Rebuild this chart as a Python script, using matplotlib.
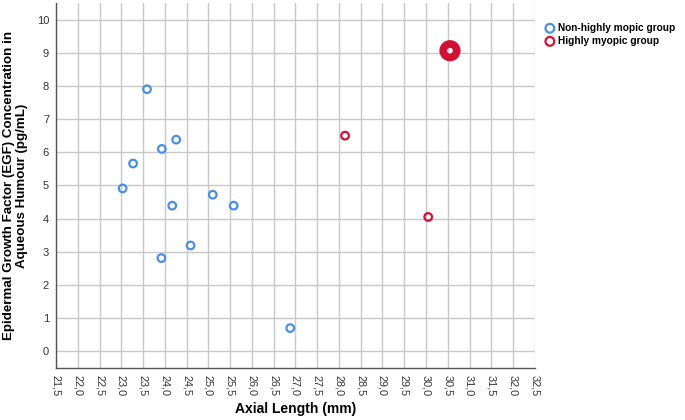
import numpy as np
import matplotlib.pyplot as plt

plt.rcParams['font.family'] = ['Liberation Sans', 'DejaVu Sans']

# Non-highly myopic group
blue_x = [23.59, 24.26, 23.93, 23.27, 23.03, 25.10, 24.17, 25.58, 24.59, 23.92, 26.88]
blue_y = [7.90, 6.38, 6.10, 5.66, 4.91, 4.72, 4.39, 4.39, 3.19, 2.81, 0.70]

# Highly myopic group (last point has several overlapping cases)
red_x = [28.14, 30.05, 30.55]
red_y = [6.50, 4.05, 9.06]
red_count = [1, 1, 3]

xticks = np.arange(21.5, 32.51, 0.5)
yticks = np.arange(0, 11, 1)

blue_c = '#4a8fe7'
red_c = '#d21034'

fig = plt.figure(figsize=(6.85, 4.2), dpi=100)
ax = fig.add_axes([0.0818, 0.124, 0.699, 0.869])

ax.scatter(blue_x, blue_y, s=30, facecolors='none', edgecolors=blue_c,
           linewidths=1.6, zorder=3)
sizes = [30 if c == 1 else 95 for c in red_count]
widths = [1.6 if c == 1 else 5.5 for c in red_count]
ax.scatter(red_x, red_y, s=sizes, facecolors='none', edgecolors=red_c,
           linewidths=widths, zorder=3)

ax.set_xlim(21.5, 32.5)
ax.set_ylim(-0.5, 10.5)
ax.set_xticks(xticks)
ax.set_xticklabels([f'{v:.1f}'.replace('.', ',') for v in xticks],
                   rotation=-90, fontsize=7.8, color='#333333')
ax.set_yticks(yticks)
ax.set_yticklabels([str(v) for v in yticks], fontsize=8, color='#333333')
ax.tick_params(length=0, pad=5)

ax.grid(True, color='#c8c8c8', linewidth=1.0)
ax.set_axisbelow(True)
for s in ['top', 'right']:
    ax.spines[s].set_visible(False)
for s in ['left', 'bottom']:
    ax.spines[s].set_color('#555555')
    ax.spines[s].set_linewidth(1.0)

ax.set_xlabel('Axial Length (mm)', fontsize=10, fontweight='bold', labelpad=4)
ax.set_ylabel('Epidermal Growth Factor (EGF) Concentration in\nAqueous Humour (pg/mL)',
              fontsize=9.6, fontweight='bold', linespacing=1.1)
ax.yaxis.set_label_coords(-0.058, 0.5)

h1 = ax.scatter([], [], s=40, facecolors='none', edgecolors=blue_c, linewidths=1.6)
h2 = ax.scatter([], [], s=40, facecolors='none', edgecolors=red_c, linewidths=1.6)
fig.legend([h1, h2], ['Non-highly mopic group', 'Highly myopic group'],
           loc='upper left', bbox_to_anchor=(0.782, 0.955), frameon=False,
           prop={'weight': 'bold', 'size': 7.3}, handletextpad=-0.2,
           labelspacing=0.3, borderaxespad=0)

fig.savefig('out.png', dpi=100)
